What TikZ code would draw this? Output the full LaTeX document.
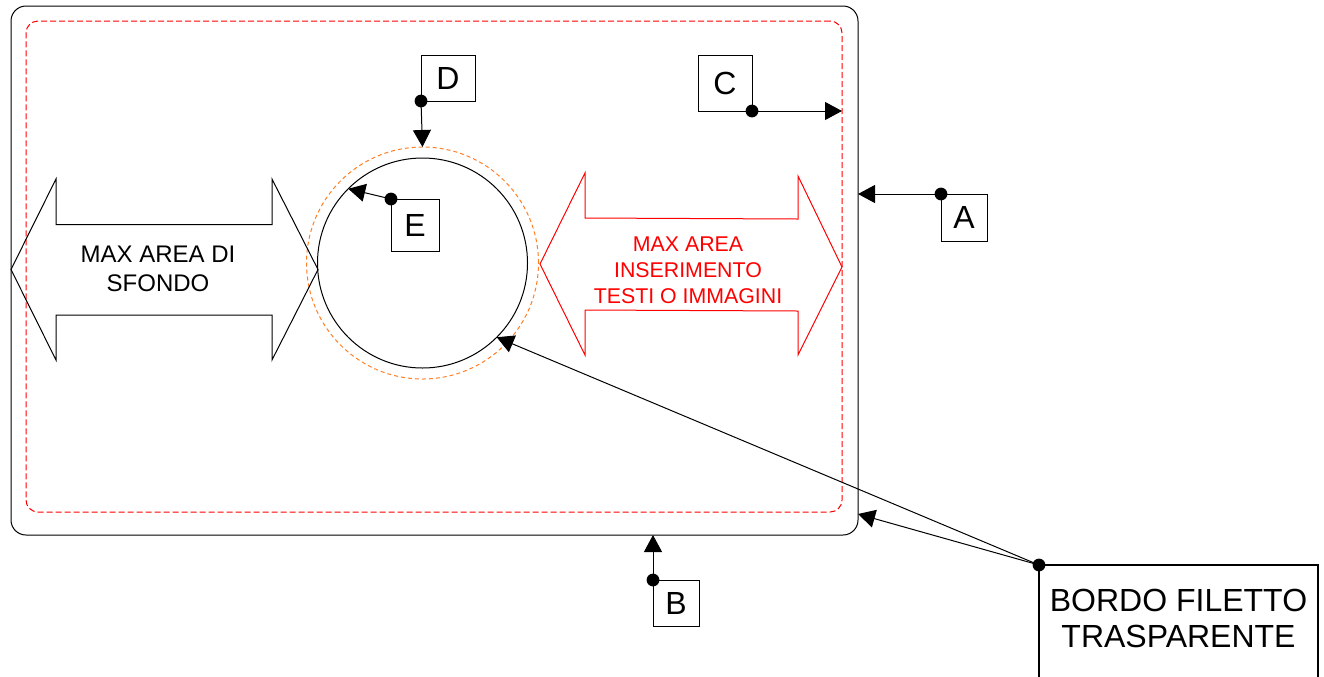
\documentclass[tikz,border=0pt]{standalone}
\usepackage{fontspec}
\setmainfont{Liberation Sans}
\usetikzlibrary{arrows.meta}
\definecolor{orng}{RGB}{255,127,39}
\begin{document}
\begin{tikzpicture}[x=0.75pt,y=-0.75pt,
  lbl/.style={draw, line width=0.75pt, inner sep=0pt, outer sep=0pt, font=\fontsize{24}{27}\selectfont},
  conn/.style={line width=0.75pt, -{Triangle[length=12.75pt,width=13.5pt]}},
  dotmark/.style={fill=black},
  bigarrow/.style={line width=0.75pt, line join=miter},
]
\useasboundingbox (0,0) rectangle (1324,676);
% frame and safe area
\node[draw, line width=0.75pt, rounded corners=11.25pt, inner sep=0pt, outer sep=0pt,
      minimum width=635.25pt, minimum height=396.75pt] (frame) at (434.5,270.5) {};
\node[draw=red, dash pattern=on 4.5pt off 2.25pt, line width=0.75pt, rounded corners=9pt,
      inner sep=0pt, outer sep=0pt, minimum width=612pt, minimum height=368.25pt] (safe) at (434,266.5) {};
% circles
\node[draw=orng, dash pattern=on 3pt off 2.25pt, line width=0.75pt, circle, inner sep=0pt, outer sep=0pt,
      minimum size=174pt] (ring) at (422.5,263) {};
\node[draw, line width=0.75pt, circle, inner sep=0pt, outer sep=0pt, minimum size=157.5pt] (disk) at (422.5,263) {};
% big double arrows
\draw[bigarrow] (11,269.5) -- (56,179) -- (56,224.5) -- (272,224.5) -- (272,179) -- (318,269.5)
  -- (272,360) -- (272,315) -- (56,315) -- (56,360) -- cycle;
\node[align=center, font=\fontsize{18}{21.75}\selectfont] (bgtext) at (158,269) {MAX AREA DI\\SFONDO};
\draw[bigarrow, red] (540,264) -- (585,173) -- (585,218) -- (798,219) -- (798,176) -- (842,267)
  -- (798,355) -- (798,311) -- (585,310) -- (585,355) -- cycle;
\node[align=center, text=red, font=\fontsize{16}{19.5}\selectfont] (fgtext) at (688,270) {MAX AREA\\INSERIMENTO\\TESTI O IMMAGINI};
% labels
\node[lbl, minimum width=40.5pt, minimum height=34.5pt] (D) at (448,78) {D};
\node[lbl, minimum width=40.5pt, minimum height=42pt] (C) at (725,83) {C};
\node[lbl, minimum width=34.5pt, minimum height=35.25pt] (A) at (964,217.5) {A};
\node[lbl, minimum width=36pt, minimum height=39pt] (E) at (415,225) {E};
\node[lbl, minimum width=34.5pt, minimum height=34.5pt] (B) at (676,603) {B};
\node[draw, line width=1pt, inner sep=0pt, outer sep=0pt, anchor=north west,
      minimum width=209.25pt, minimum height=120pt] (bordobox) at (1039,565) {};
\node[align=center, font=\fontsize{24}{27}\selectfont] (bordotext) at (1178.5,618) {BORDO FILETTO\\TRASPARENTE};
\coordinate (frameBR) at (858,514);
% connectors
\draw[conn] (D.south west) -- (ring.north);
\draw[conn] (C.south east) -- (safe.east |- C.south east);
\draw[conn] (A.north west) -- (frame.east |- A.north west);
\draw[conn] (E.north west) -- (disk.135);
\draw[conn] (B.north west) -- (B.north west |- frame.south);
\draw[conn] (bordobox.north west) -- (frameBR);
\draw[conn] (bordobox.north west) -- (disk.-45);
% dots
\fill[dotmark] (D.south west) circle (4.8pt);
\fill[dotmark] (C.south east) circle (4.8pt);
\fill[dotmark] (A.north west) circle (4.8pt);
\fill[dotmark] (E.north west) circle (4.8pt);
\fill[dotmark] (B.north west) circle (4.8pt);
\fill[dotmark] (bordobox.north west) circle (4.8pt);
\end{tikzpicture}
\end{document}
